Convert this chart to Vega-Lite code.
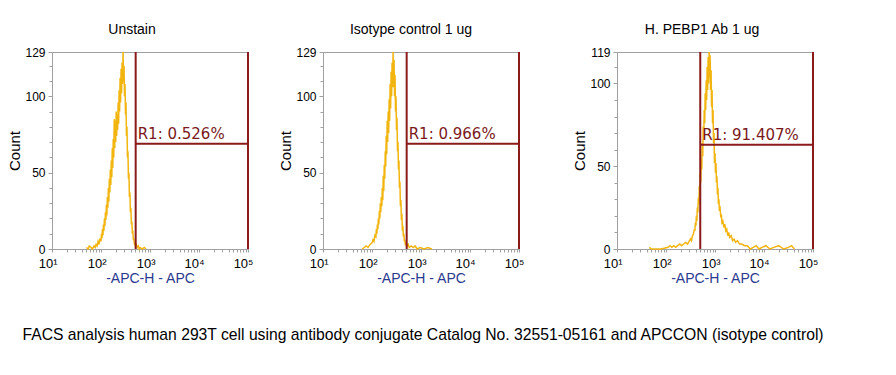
{
  "$schema": "https://vega.github.io/schema/vega-lite/v6.json",
  "background": "white",
  "padding": {"left": 7, "top": 22, "right": 0, "bottom": 0},
  "title": {"text": "FACS analysis human 293T cell using antibody conjugate Catalog No. 32551-05161 and APCCON (isotype control)", "orient": "bottom", "anchor": "start", "dx": 15, "offset": 42, "fontSize": 15.7, "fontWeight": "normal", "font": "Liberation Sans", "color": "#000000"},
  "config": {
    "view": {"stroke": "#a0a0a0", "strokeWidth": 1},
    "font": "Liberation Sans",
    "title": {"fontSize": 14, "fontWeight": "normal", "font": "Liberation Sans", "color": "#000000", "offset": 9},
    "axis": {"domainColor": "#a0a0a0", "tickColor": "#a0a0a0", "tickSize": 3, "grid": false, "labelColor": "#000000", "labelFont": "Liberation Sans", "titleFont": "Liberation Sans", "titleFontWeight": "normal", "labelFlush": false, "labelOverlap": false}
  },
  "datasets": {
    "h1": [{"x":50.1,"c":1},{"x":55,"c":0},{"x":57.5,"c":2},{"x":63.1,"c":1},{"x":66.1,"c":0},{"x":72.4,"c":2},{"x":75.9,"c":1},{"x":79.4,"c":3},{"x":83.2,"c":2},{"x":87.1,"c":5},{"x":91.2,"c":3},{"x":95.5,"c":7},{"x":100,"c":5},{"x":102.3,"c":10},{"x":104.7,"c":7},{"x":107.2,"c":13},{"x":109.6,"c":9},{"x":112.2,"c":16},{"x":114.8,"c":12},{"x":117.5,"c":20},{"x":120.2,"c":15},{"x":123,"c":24},{"x":125.9,"c":19},{"x":128.8,"c":29},{"x":131.8,"c":22},{"x":134.9,"c":34},{"x":138,"c":27},{"x":141.3,"c":40},{"x":144.5,"c":31},{"x":147.9,"c":46},{"x":151.4,"c":37},{"x":154.9,"c":52},{"x":158.5,"c":42},{"x":162.2,"c":58},{"x":166,"c":47},{"x":169.8,"c":66},{"x":173.8,"c":53},{"x":177.8,"c":72},{"x":182,"c":60},{"x":186.2,"c":85},{"x":190.5,"c":66},{"x":195,"c":84},{"x":199.5,"c":70},{"x":204.2,"c":90},{"x":208.9,"c":74},{"x":213.8,"c":88},{"x":218.8,"c":78},{"x":223.9,"c":96},{"x":229.1,"c":82},{"x":234.4,"c":104},{"x":239.9,"c":90},{"x":245.5,"c":112},{"x":251.2,"c":96},{"x":257,"c":118},{"x":263,"c":102},{"x":269.2,"c":122},{"x":275.4,"c":108},{"x":281.8,"c":129},{"x":288.4,"c":110},{"x":295.1,"c":120},{"x":302,"c":100},{"x":309,"c":108},{"x":316.2,"c":88},{"x":323.6,"c":96},{"x":331.1,"c":74},{"x":338.8,"c":80},{"x":346.7,"c":60},{"x":354.8,"c":64},{"x":363.1,"c":46},{"x":371.5,"c":50},{"x":380.2,"c":34},{"x":389,"c":37},{"x":398.1,"c":24},{"x":407.4,"c":27},{"x":416.9,"c":16},{"x":426.6,"c":18},{"x":436.5,"c":10},{"x":446.7,"c":12},{"x":457.1,"c":6},{"x":467.7,"c":7},{"x":478.6,"c":3},{"x":489.8,"c":4},{"x":501.2,"c":2},{"x":524.8,"c":3},{"x":549.5,"c":1},{"x":575.4,"c":2},{"x":602.6,"c":0},{"x":631,"c":1},{"x":691.8,"c":0},{"x":758.6,"c":1},{"x":831.8,"c":0}],
    "h2": [{"x":63.1,"c":0},{"x":69.2,"c":1},{"x":75.9,"c":2},{"x":83.2,"c":1},{"x":91.2,"c":3},{"x":100,"c":4},{"x":104.7,"c":6},{"x":109.6,"c":5},{"x":114.8,"c":9},{"x":120.2,"c":8},{"x":123,"c":13},{"x":125.9,"c":10},{"x":128.8,"c":16},{"x":131.8,"c":13},{"x":134.9,"c":20},{"x":138,"c":16},{"x":141.3,"c":25},{"x":144.5,"c":20},{"x":147.9,"c":30},{"x":151.4,"c":24},{"x":154.9,"c":34},{"x":158.5,"c":28},{"x":162.2,"c":40},{"x":166,"c":32},{"x":169.8,"c":48},{"x":173.8,"c":38},{"x":177.8,"c":55},{"x":182,"c":46},{"x":186.2,"c":64},{"x":190.5,"c":54},{"x":195,"c":74},{"x":199.5,"c":62},{"x":204.2,"c":84},{"x":208.9,"c":70},{"x":213.8,"c":90},{"x":218.8,"c":76},{"x":223.9,"c":98},{"x":229.1,"c":84},{"x":234.4,"c":108},{"x":239.9,"c":92},{"x":245.5,"c":116},{"x":251.2,"c":100},{"x":257,"c":122},{"x":263,"c":106},{"x":269.2,"c":129},{"x":275.4,"c":106},{"x":281.8,"c":124},{"x":288.4,"c":100},{"x":295.1,"c":114},{"x":302,"c":90},{"x":309,"c":100},{"x":316.2,"c":78},{"x":323.6,"c":86},{"x":331.1,"c":64},{"x":338.8,"c":70},{"x":346.7,"c":52},{"x":354.8,"c":58},{"x":363.1,"c":40},{"x":371.5,"c":44},{"x":380.2,"c":28},{"x":389,"c":32},{"x":398.1,"c":19},{"x":407.4,"c":23},{"x":416.9,"c":12},{"x":426.6,"c":15},{"x":436.5,"c":8},{"x":446.7,"c":10},{"x":457.1,"c":5},{"x":467.7,"c":6},{"x":478.6,"c":3},{"x":501.2,"c":4},{"x":524.8,"c":2},{"x":549.5,"c":3},{"x":575.4,"c":1},{"x":631,"c":2},{"x":691.8,"c":1},{"x":758.6,"c":2},{"x":831.8,"c":0},{"x":955,"c":1},{"x":1148,"c":0},{"x":1380,"c":1},{"x":1660,"c":0}],
    "h3": [{"x":45.7,"c":1},{"x":50.1,"c":0},{"x":79.4,"c":0},{"x":109.6,"c":1},{"x":120.2,"c":2},{"x":131.8,"c":1},{"x":144.5,"c":2},{"x":158.5,"c":1},{"x":173.8,"c":2},{"x":190.5,"c":3},{"x":208.9,"c":2},{"x":229.1,"c":3},{"x":251.2,"c":4},{"x":275.4,"c":3},{"x":302,"c":5},{"x":316.2,"c":6},{"x":331.1,"c":5},{"x":346.7,"c":8},{"x":363.1,"c":9},{"x":380.2,"c":12},{"x":389,"c":11},{"x":398.1,"c":16},{"x":407.4,"c":14},{"x":416.9,"c":20},{"x":426.6,"c":17},{"x":436.5,"c":25},{"x":446.7,"c":22},{"x":457.1,"c":31},{"x":467.7,"c":27},{"x":478.6,"c":38},{"x":489.8,"c":33},{"x":501.2,"c":46},{"x":512.9,"c":40},{"x":524.8,"c":54},{"x":537,"c":48},{"x":549.5,"c":64},{"x":562.3,"c":56},{"x":575.4,"c":74},{"x":588.8,"c":66},{"x":602.6,"c":84},{"x":616.6,"c":76},{"x":631,"c":94},{"x":645.7,"c":84},{"x":660.7,"c":102},{"x":676.1,"c":90},{"x":691.8,"c":110},{"x":707.9,"c":96},{"x":724.4,"c":116},{"x":741.3,"c":100},{"x":758.6,"c":119},{"x":776.2,"c":104},{"x":794.3,"c":117},{"x":812.8,"c":96},{"x":831.8,"c":108},{"x":851.1,"c":86},{"x":871,"c":96},{"x":891.3,"c":76},{"x":912,"c":84},{"x":933.3,"c":64},{"x":955,"c":70},{"x":977.2,"c":52},{"x":1000,"c":58},{"x":1023,"c":46},{"x":1047,"c":52},{"x":1072,"c":40},{"x":1096,"c":44},{"x":1122,"c":33},{"x":1148,"c":37},{"x":1175,"c":27},{"x":1202,"c":30},{"x":1230,"c":23},{"x":1259,"c":26},{"x":1318,"c":19},{"x":1349,"c":21},{"x":1380,"c":16},{"x":1445,"c":17},{"x":1514,"c":13},{"x":1585,"c":15},{"x":1660,"c":11},{"x":1738,"c":12},{"x":1820,"c":8},{"x":1905,"c":10},{"x":1995,"c":7},{"x":2138,"c":8},{"x":2291,"c":5},{"x":2455,"c":6},{"x":2630,"c":4},{"x":2884,"c":5},{"x":3162,"c":3},{"x":3548,"c":3},{"x":3981,"c":2},{"x":4571,"c":2},{"x":5248,"c":0},{"x":6026,"c":1},{"x":6918,"c":2},{"x":7943,"c":0},{"x":9120,"c":1},{"x":10965,"c":2},{"x":13183,"c":0},{"x":15849,"c":1},{"x":19953,"c":2},{"x":25119,"c":0},{"x":31623,"c":1},{"x":36308,"c":2},{"x":41687,"c":0}]
  },
  "spacing": 47,
  "hconcat": [
    {
      "spacing": 24,
      "hconcat": [
        {
          "title": {"text": "Unstain", "dx": -18},
          "width": 196, "height": 197,
          "resolve": {"axis": {"y": "independent"}},
          "layer": [
            {
              "data": {"name": "h1"},
              "mark": {"type": "line", "color": "#f2b50f", "strokeWidth": 1.5},
              "encoding": {
                "x": {"field": "x", "type": "quantitative", "scale": {"type": "log", "domain": [10, 100000], "nice": false},
                  "axis": {"title": "-APC-H - APC", "titleColor": "#2b3a8f", "titleFontSize": 14, "titlePadding": 1, "labelFontSize": 13, "labelAlign": "right", "labelOffset": 5, "labelPadding": 5, "labelOverlap": false, "labelBound": false,
                    "values": [10,20,30,40,50,60,70,80,90,100,200,300,400,500,600,700,800,900,1000,2000,3000,4000,5000,6000,7000,8000,9000,10000,20000,30000,40000,50000,60000,70000,80000,90000,100000],
                    "labelExpr": "datum.value==10?'10¹':datum.value==100?'10²':datum.value==1000?'10³':datum.value==10000?'10⁴':datum.value==100000?'10⁵':''"}},
                "y": {"field": "c", "type": "quantitative", "scale": {"domain": [0, 129], "nice": false},
                  "axis": {"orient": "left", "title": "Count", "titleFontSize": 15, "titleColor": "#000000", "titlePadding": 2, "labelFontSize": 12, "labelPadding": 3, "tickSize": 4, "values": [0,50,100,129]}}
              }
            },
            {
              "data": {"values": [{"lo": 510, "hi": 100000, "level": 69, "bottom": 0, "top": 129, "label": "R1: 0.526%"}]},
              "layer": [
                {"mark": {"type": "rule", "color": "#8b1a1a", "strokeWidth": 2}, "encoding": {"x": {"field": "lo", "type": "quantitative"}, "y": {"field": "bottom", "type": "quantitative", "axis": null}, "y2": {"field": "top"}}},
                {"mark": {"type": "rule", "color": "#8b1a1a", "strokeWidth": 2}, "encoding": {"x": {"field": "hi", "type": "quantitative"}, "y": {"field": "bottom", "type": "quantitative", "axis": null}, "y2": {"field": "top"}}},
                {"mark": {"type": "rule", "color": "#8b1a1a", "strokeWidth": 2}, "encoding": {"x": {"field": "lo", "type": "quantitative"}, "x2": {"field": "hi"}, "y": {"field": "level", "type": "quantitative", "axis": null}}},
                {"mark": {"type": "text", "color": "#7a1a1a", "font": "DejaVu Sans", "fontSize": 15, "align": "left", "baseline": "alphabetic", "dx": 2, "dy": -5}, "encoding": {"x": {"field": "lo", "type": "quantitative"}, "y": {"field": "level", "type": "quantitative", "axis": null}, "text": {"field": "label"}}}
              ]
            },
            {
              "data": {"values": [{"lo": 510, "bottom": 0}]},
              "mark": {"type": "point", "opacity": 0},
              "encoding": {"x": {"field": "lo", "type": "quantitative"}, "y": {"field": "bottom", "type": "quantitative", "axis": {"orient": "left", "values": [10,20,30,40,60,70,80,90,110,120], "labels": false, "domain": false, "title": null, "tickSize": 3}}}
            }
          ]
        },
        {
          "title": {"text": "Isotype control 1 ug", "dx": -10},
          "width": 196, "height": 197,
          "resolve": {"axis": {"y": "independent"}},
          "layer": [
            {
              "data": {"name": "h2"},
              "mark": {"type": "line", "color": "#f2b50f", "strokeWidth": 1.5},
              "encoding": {
                "x": {"field": "x", "type": "quantitative", "scale": {"type": "log", "domain": [10, 100000], "nice": false},
                  "axis": {"title": "-APC-H - APC", "titleColor": "#2b3a8f", "titleFontSize": 14, "titlePadding": 1, "labelFontSize": 13, "labelAlign": "right", "labelOffset": 5, "labelPadding": 5, "labelOverlap": false, "labelBound": false,
                    "values": [10,20,30,40,50,60,70,80,90,100,200,300,400,500,600,700,800,900,1000,2000,3000,4000,5000,6000,7000,8000,9000,10000,20000,30000,40000,50000,60000,70000,80000,90000,100000],
                    "labelExpr": "datum.value==10?'10¹':datum.value==100?'10²':datum.value==1000?'10³':datum.value==10000?'10⁴':datum.value==100000?'10⁵':''"}},
                "y": {"field": "c", "type": "quantitative", "scale": {"domain": [0, 129], "nice": false},
                  "axis": {"orient": "left", "title": "Count", "titleFontSize": 15, "titleColor": "#000000", "titlePadding": 2, "labelFontSize": 12, "labelPadding": 3, "tickSize": 4, "values": [0,50,100,129]}}
              }
            },
            {
              "data": {"values": [{"lo": 510, "hi": 100000, "level": 69, "bottom": 0, "top": 129, "label": "R1: 0.966%"}]},
              "layer": [
                {"mark": {"type": "rule", "color": "#8b1a1a", "strokeWidth": 2}, "encoding": {"x": {"field": "lo", "type": "quantitative"}, "y": {"field": "bottom", "type": "quantitative", "axis": null}, "y2": {"field": "top"}}},
                {"mark": {"type": "rule", "color": "#8b1a1a", "strokeWidth": 2}, "encoding": {"x": {"field": "hi", "type": "quantitative"}, "y": {"field": "bottom", "type": "quantitative", "axis": null}, "y2": {"field": "top"}}},
                {"mark": {"type": "rule", "color": "#8b1a1a", "strokeWidth": 2}, "encoding": {"x": {"field": "lo", "type": "quantitative"}, "x2": {"field": "hi"}, "y": {"field": "level", "type": "quantitative", "axis": null}}},
                {"mark": {"type": "text", "color": "#7a1a1a", "font": "DejaVu Sans", "fontSize": 15, "align": "left", "baseline": "alphabetic", "dx": 2, "dy": -5}, "encoding": {"x": {"field": "lo", "type": "quantitative"}, "y": {"field": "level", "type": "quantitative", "axis": null}, "text": {"field": "label"}}}
              ]
            },
            {
              "data": {"values": [{"lo": 510, "bottom": 0}]},
              "mark": {"type": "point", "opacity": 0},
              "encoding": {"x": {"field": "lo", "type": "quantitative"}, "y": {"field": "bottom", "type": "quantitative", "axis": {"orient": "left", "values": [10,20,30,40,60,70,80,90,110,120], "labels": false, "domain": false, "title": null, "tickSize": 3}}}
            }
          ]
        }
      ]
    },
    {
      "title": {"text": "H. PEBP1 Ab 1 ug", "dx": -13},
      "width": 196, "height": 197,
      "resolve": {"axis": {"y": "independent"}},
      "layer": [
        {
          "data": {"name": "h3"},
          "mark": {"type": "line", "color": "#f2b50f", "strokeWidth": 1.5},
          "encoding": {
            "x": {"field": "x", "type": "quantitative", "scale": {"type": "log", "domain": [10, 100000], "nice": false},
              "axis": {"title": "-APC-H - APC", "titleColor": "#2b3a8f", "titleFontSize": 14, "titlePadding": 1, "labelFontSize": 13, "labelAlign": "right", "labelOffset": 5, "labelPadding": 5, "labelOverlap": false, "labelBound": false,
                "values": [10,20,30,40,50,60,70,80,90,100,200,300,400,500,600,700,800,900,1000,2000,3000,4000,5000,6000,7000,8000,9000,10000,20000,30000,40000,50000,60000,70000,80000,90000,100000],
                "labelExpr": "datum.value==10?'10¹':datum.value==100?'10²':datum.value==1000?'10³':datum.value==10000?'10⁴':datum.value==100000?'10⁵':''"}},
            "y": {"field": "c", "type": "quantitative", "scale": {"domain": [0, 119], "nice": false},
              "axis": {"orient": "left", "title": "Count", "titleFontSize": 15, "titleColor": "#000000", "titlePadding": 2, "labelFontSize": 12, "labelPadding": 3, "tickSize": 4, "values": [0,50,100,119]}}
          }
        },
        {
          "data": {"values": [{"lo": 500, "hi": 100000, "level": 63, "bottom": 0, "top": 119, "label": "R1: 91.407%"}]},
          "layer": [
            {"mark": {"type": "rule", "color": "#8b1a1a", "strokeWidth": 2}, "encoding": {"x": {"field": "lo", "type": "quantitative"}, "y": {"field": "bottom", "type": "quantitative", "axis": null}, "y2": {"field": "top"}}},
            {"mark": {"type": "rule", "color": "#8b1a1a", "strokeWidth": 2}, "encoding": {"x": {"field": "hi", "type": "quantitative"}, "y": {"field": "bottom", "type": "quantitative", "axis": null}, "y2": {"field": "top"}}},
            {"mark": {"type": "rule", "color": "#8b1a1a", "strokeWidth": 2}, "encoding": {"x": {"field": "lo", "type": "quantitative"}, "x2": {"field": "hi"}, "y": {"field": "level", "type": "quantitative", "axis": null}}},
            {"mark": {"type": "text", "color": "#7a1a1a", "font": "DejaVu Sans", "fontSize": 15, "align": "left", "baseline": "alphabetic", "dx": 2, "dy": -5}, "encoding": {"x": {"field": "lo", "type": "quantitative"}, "y": {"field": "level", "type": "quantitative", "axis": null}, "text": {"field": "label"}}}
          ]
        },
        {
          "data": {"values": [{"lo": 500, "bottom": 0}]},
          "mark": {"type": "point", "opacity": 0},
          "encoding": {"x": {"field": "lo", "type": "quantitative"}, "y": {"field": "bottom", "type": "quantitative", "axis": {"orient": "left", "values": [10,20,30,40,60,70,80,90,110], "labels": false, "domain": false, "title": null, "tickSize": 3}}}
        }
      ]
    }
  ]
}
